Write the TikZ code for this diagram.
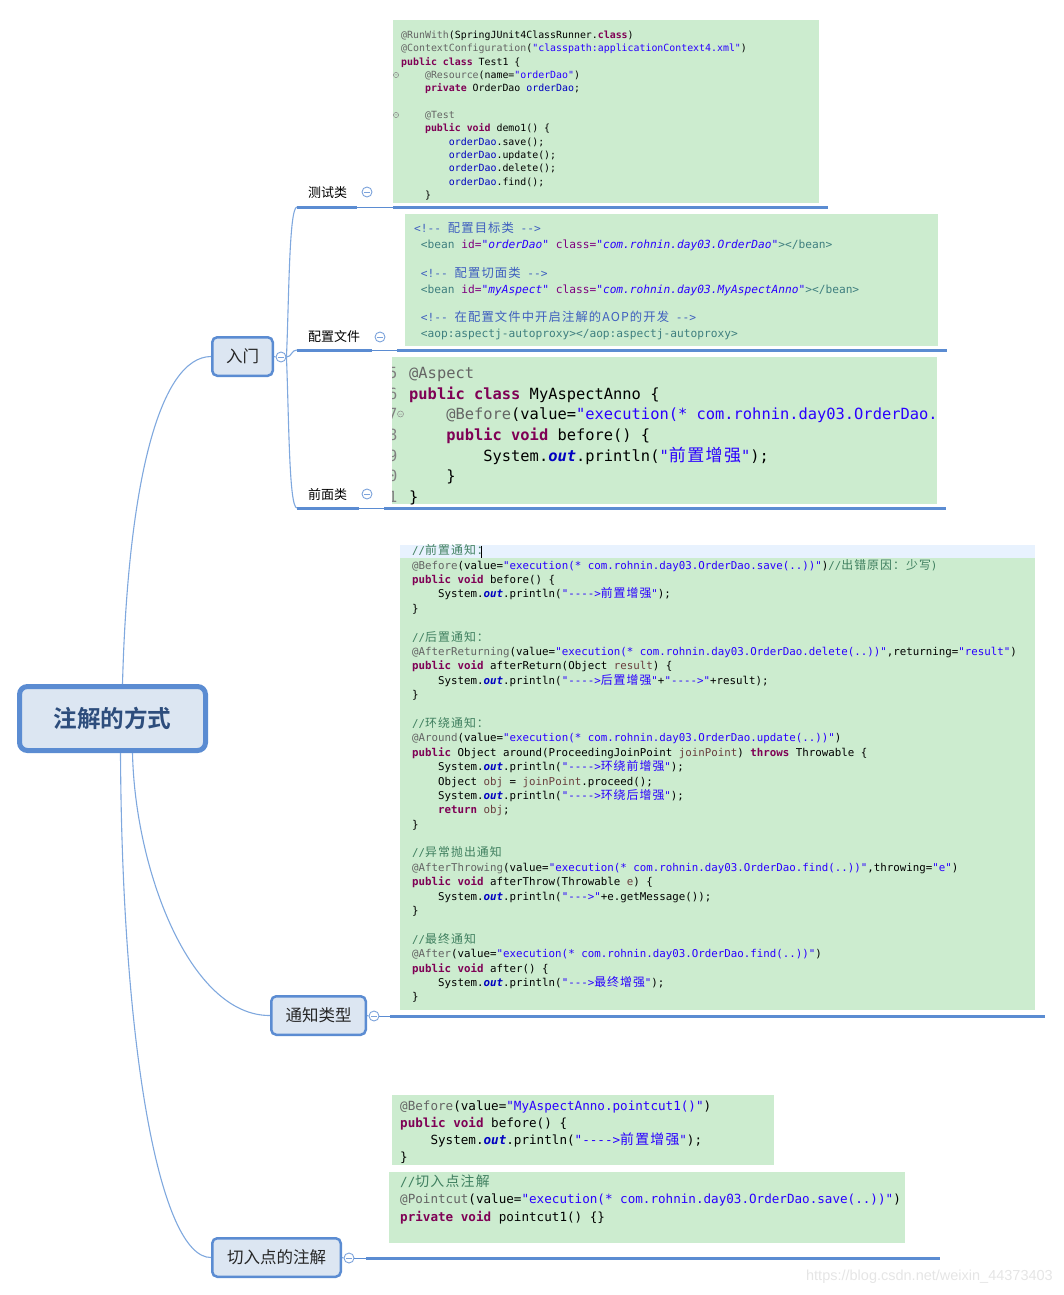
\documentclass[tikz,border=0pt]{standalone}
\usepackage{fontspec}
\setmonofont{DejaVu Sans Mono}[BoldFont={DejaVu Sans Mono Bold},ItalicFont={DejaVu Sans Mono Oblique},BoldItalicFont={DejaVu Sans Mono Bold Oblique}]
\newfontfamily\cjk{Noto Sans CJK SC}[BoldFont={Noto Sans CJK SC Bold}]
\newfontfamily\cjkm{Noto Sans CJK SC}[Scale=1.1,LetterSpace=9]
\newfontfamily\wmf{Liberation Sans}
\definecolor{codegreen}{HTML}{CCECCF}
\definecolor{curline}{HTML}{E8F2FE}
\definecolor{mapblue}{HTML}{5B8CD2}
\definecolor{connblue}{HTML}{7FA8DE}
\definecolor{nodefill}{HTML}{DCE6F2}
\definecolor{roottext}{HTML}{2D4D7C}
\definecolor{nodetext}{HTML}{262626}
\definecolor{anno}{HTML}{646464}
\definecolor{kw}{HTML}{7F0055}
\definecolor{str}{HTML}{2A00FF}
\definecolor{fld}{HTML}{0000C0}
\definecolor{cmt}{HTML}{3F7F5F}
\definecolor{par}{HTML}{6A3E3E}
\definecolor{xcmt}{HTML}{3F5FBF}
\definecolor{xtag}{HTML}{3F7F7F}
\definecolor{xattr}{HTML}{7F007F}
\newcommand\cAn[1]{\textcolor{anno}{#1}}
\newcommand\cKw[1]{\textcolor{kw}{\bfseries #1}}
\newcommand\cSt[1]{\textcolor{str}{#1}}
\newcommand\cFd[1]{\textcolor{fld}{\bfseries\itshape #1}}
\newcommand\cVa[1]{\textcolor{fld}{#1}}
\newcommand\cCm[1]{\textcolor{cmt}{#1}}
\newcommand\cPa[1]{\textcolor{par}{#1}}
\newcommand\cCj[1]{{\cjkm #1}}
\newcommand\xC[1]{\textcolor{xcmt}{#1}}
\newcommand\xT[1]{\textcolor{xtag}{#1}}
\newcommand\xA[1]{\textcolor{xattr}{#1}}
\newcommand\xV[1]{\textcolor{str}{\itshape #1}}
\tikzset{
  conn/.style={draw=connblue, line width=1.1pt},
  uthick/.style={draw=mapblue, line width=3pt},
  uthin/.style={draw=mapblue, line width=1pt},
  rootbox/.style={draw=mapblue, line width=5pt, fill=nodefill, rounded corners=8pt, minimum width=186pt, minimum height=64pt, inner sep=0pt, font=\cjk\bfseries\fontsize{23.6}{26}\selectfont, text=roottext},
  topicbox/.style={draw=mapblue, line width=2.5pt, fill=nodefill, rounded corners=5pt, minimum height=38.5pt, inner sep=0pt, font=\cjk\fontsize{16.5}{18}\selectfont, text=nodetext},
  sublabel/.style={anchor=west, inner sep=0pt, font=\cjk\fontsize{13}{15}\selectfont, text=black},
  fold/.style={circle, draw=mapblue!80, fill=white, minimum size=10pt, inner sep=0pt, line width=0.9pt,
    path picture={\draw[mapblue!80, line width=0.9pt] ([xshift=-2.6pt]path picture bounding box.center) -- ([xshift=2.6pt]path picture bounding box.center);}},
  codeblock/.style={fill=codegreen, draw=none},
  cA/.style={anchor=base west, inner sep=0pt, font=\ttfamily\fontsize{9.9}{11}\selectfont},
  cB/.style={anchor=base west, inner sep=0pt, font=\ttfamily\fontsize{11.2}{13}\selectfont},
  cC/.style={anchor=base west, inner sep=0pt, font=\ttfamily\fontsize{15.4}{17}\selectfont},
  cnum/.style={anchor=base east, inner sep=0pt, text=black!50, font=\ttfamily\fontsize{15.4}{17}\selectfont},
  cD/.style={anchor=base west, inner sep=0pt, font=\ttfamily\fontsize{10.8}{12}\selectfont},
  cE/.style={anchor=base west, inner sep=0pt, font=\ttfamily\fontsize{12.6}{14}\selectfont},
}
\begin{document}
\begin{tikzpicture}[x=1pt,y=-1pt]
\useasboundingbox (0,0) rectangle (1063,1295);

% ---------- code blocks (backgrounds) ----------
\fill[codeblock] (393,20) rectangle (819,203);
\fill[codeblock] (405,214) rectangle (938,346);
\fill[codeblock] (392,357) rectangle (937,504);
\fill[codeblock] (400,545) rectangle (1035,1010);
\fill[curline] (400,545) rectangle (1035,558);
\fill[codeblock] (392,1095) rectangle (774,1165);
\fill[codeblock] (389,1172) rectangle (905,1243);

% ---------- block 1 ----------
\draw[black!45, line width=0.5pt] (396,75) circle (2.6pt) (394.6,75) -- (397.4,75);
\draw[black!45, line width=0.5pt] (396,115) circle (2.6pt) (394.6,115) -- (397.4,115);
\node[cA] (a0) at (401,38.4) {\cAn{@RunWith}(SpringJUnit4ClassRunner.\cKw{class})};
\node[cA] (a1) at (401,51.75) {\cAn{@ContextConfiguration}(\cSt{"classpath:applicationContext4.xml"})};
\node[cA] (a2) at (401,65.1) {\cKw{public} \cKw{class} Test1 \{};
\node[cA] (a3) at (401,78.45) {\ \ \ \ \cAn{@Resource}(name=\cSt{"orderDao"})};
\node[cA] (a4) at (401,91.8) {\ \ \ \ \cKw{private} OrderDao \cVa{orderDao};};
\node[cA] (a6) at (401,118.5) {\ \ \ \ \cAn{@Test}};
\node[cA] (a7) at (401,131.85) {\ \ \ \ \cKw{public} \cKw{void} demo1() \{};
\node[cA] (a8) at (401,145.2) {\ \ \ \ \ \ \ \ \cVa{orderDao}.save();};
\node[cA] (a9) at (401,158.55) {\ \ \ \ \ \ \ \ \cVa{orderDao}.update();};
\node[cA] (a10) at (401,171.9) {\ \ \ \ \ \ \ \ \cVa{orderDao}.delete();};
\node[cA] (a11) at (401,185.25) {\ \ \ \ \ \ \ \ \cVa{orderDao}.find();};
\node[cA] (a12) at (401,198.6) {\ \ \ \ \}};

% ---------- block 2 ----------
\node[cB] (b0) at (414,232.9) {\xC{<!-- \cCj{配置目标类} -->}};
\node[cB] (b1) at (414,248.9) {\ \xT{<bean} \xA{id=}\xV{"orderDao"} \xA{class=}\xV{"com.rohnin.day03.OrderDao"}\xT{></bean>}};
\node[cB] (b2) at (414,277.9) {\ \xC{<!-- \cCj{配置切面类} -->}};
\node[cB] (b3) at (414,293.9) {\ \xT{<bean} \xA{id=}\xV{"myAspect"} \xA{class=}\xV{"com.rohnin.day03.MyAspectAnno"}\xT{></bean>}};
\node[cB] (b4) at (414,321.9) {\ \xC{<!-- \cCj{在配置文件中开启注解的AOP的开发} -->}};
\node[cB] (b5) at (414,337.9) {\ \xT{<aop:aspectj-autoproxy></aop:aspectj-autoproxy>}};

% ---------- block 3 ----------
\begin{scope}
\clip (392,357) rectangle (937,504);
\node[cnum] (n15) at (397.5,378.4) {15};
\node[cnum] (n16) at (397.5,399.1) {16};
\node[cnum] (n17) at (397.5,419.8) {17};
\node[cnum] (n18) at (397.5,440.5) {18};
\node[cnum] (n19) at (397.5,461.2) {19};
\node[cnum] (n20) at (397.5,481.9) {20};
\node[cnum] (n21) at (397.5,502.6) {21};
\draw[black!45, line width=0.5pt] (400.5,414) circle (3pt) (398.8,414) -- (402.2,414);
\node[cC] (c0) at (409,378.4) {\cAn{@Aspect}};
\node[cC] (c1) at (409,399.1) {\cKw{public} \cKw{class} MyAspectAnno \{};
\node[cC] (c2) at (409,419.8) {\ \ \ \ \cAn{@Before}(value=\cSt{"execution(* com.rohnin.day03.OrderDao.}};
\node[cC] (c3) at (409,440.5) {\ \ \ \ \cKw{public} \cKw{void} before() \{};
\node[cC] (c4) at (409,461.2) {\ \ \ \ \ \ \ \ System.\cFd{out}.println(\cSt{"\cCj{前置增强}"});};
\node[cC] (c5) at (409,481.9) {\ \ \ \ \}};
\node[cC] (c6) at (409,502.6) {\}};
\end{scope}

% ---------- block 4 ----------
\node[cD] (d0) at (412,554.8) {\cCm{//\cCj{前置通知：}}};
\draw[black, line width=0.8pt] (481.5,545.5) -- (481.5,557.5);
\node[cD] (d1) at (412,569.19) {\cAn{@Before}(value=\cSt{"execution(* com.rohnin.day03.OrderDao.save(..))"})\cCm{//\cCj{出错原因：少写})}};
\node[cD] (d2) at (412,583.58) {\cKw{public} \cKw{void} before() \{};
\node[cD] (d3) at (412,597.97) {\ \ \ \ System.\cFd{out}.println(\cSt{"---->\cCj{前置增强}"});};
\node[cD] (d4) at (412,612.36) {\}};
\node[cD] (d6) at (412,641.14) {\cCm{//\cCj{后置通知：}}};
\node[cD] (d7) at (412,655.53) {\cAn{@AfterReturning}(value=\cSt{"execution(* com.rohnin.day03.OrderDao.delete(..))"},returning=\cSt{"result"})};
\node[cD] (d8) at (412,669.92) {\cKw{public} \cKw{void} afterReturn(Object \cPa{result}) \{};
\node[cD] (d9) at (412,684.31) {\ \ \ \ System.\cFd{out}.println(\cSt{"---->\cCj{后置增强}"}+\cSt{"---->"}+result);};
\node[cD] (d10) at (412,698.7) {\}};
\node[cD] (d12) at (412,727.48) {\cCm{//\cCj{环绕通知：}}};
\node[cD] (d13) at (412,741.87) {\cAn{@Around}(value=\cSt{"execution(* com.rohnin.day03.OrderDao.update(..))"})};
\node[cD] (d14) at (412,756.26) {\cKw{public} Object around(ProceedingJoinPoint \cPa{joinPoint}) \cKw{throws} Throwable \{};
\node[cD] (d15) at (412,770.65) {\ \ \ \ System.\cFd{out}.println(\cSt{"---->\cCj{环绕前增强}"});};
\node[cD] (d16) at (412,785.04) {\ \ \ \ Object \cPa{obj} = \cPa{joinPoint}.proceed();};
\node[cD] (d17) at (412,799.43) {\ \ \ \ System.\cFd{out}.println(\cSt{"---->\cCj{环绕后增强}"});};
\node[cD] (d18) at (412,813.82) {\ \ \ \ \cKw{return} \cPa{obj};};
\node[cD] (d19) at (412,828.21) {\}};
\node[cD] (d21) at (412,856.99) {\cCm{//\cCj{异常抛出通知}}};
\node[cD] (d22) at (412,871.38) {\cAn{@AfterThrowing}(value=\cSt{"execution(* com.rohnin.day03.OrderDao.find(..))"},throwing=\cSt{"e"})};
\node[cD] (d23) at (412,885.77) {\cKw{public} \cKw{void} afterThrow(Throwable \cPa{e}) \{};
\node[cD] (d24) at (412,900.16) {\ \ \ \ System.\cFd{out}.println(\cSt{"--->"}+e.getMessage());};
\node[cD] (d25) at (412,914.55) {\}};
\node[cD] (d27) at (412,943.33) {\cCm{//\cCj{最终通知}}};
\node[cD] (d28) at (412,957.72) {\cAn{@After}(value=\cSt{"execution(* com.rohnin.day03.OrderDao.find(..))"})};
\node[cD] (d29) at (412,972.11) {\cKw{public} \cKw{void} after() \{};
\node[cD] (d30) at (412,986.5) {\ \ \ \ System.\cFd{out}.println(\cSt{"--->\cCj{最终增强}"});};
\node[cD] (d31) at (412,1000.89) {\}};

% ---------- block 5 ----------
\node[cE] (e0) at (400,1110.4) {\cAn{@Before}(value=\cSt{"MyAspectAnno.pointcut1()"})};
\node[cE] (e1) at (400,1127.4) {\cKw{public} \cKw{void} before() \{};
\node[cE] (e2) at (400,1144.4) {\ \ \ \ System.\cFd{out}.println(\cSt{"---->\cCj{前置增强}"});};
\node[cE] (e3) at (400,1161.4) {\}};
\node[cE] (f0) at (400,1186.4) {\cCm{//\cCj{切入点注解}}};
\node[cE] (f1) at (400,1203.9) {\cAn{@Pointcut}(value=\cSt{"execution(* com.rohnin.day03.OrderDao.save(..))"})};
\node[cE] (f2) at (400,1221.4) {\cKw{private} \cKw{void} pointcut1() \{\}};

% ---------- mind map nodes ----------
\node[rootbox] (root) at (112.5,718.5) {注解的方式};
\node[topicbox, minimum width=60.5pt] (intro) at (242.5,356.5) {入门};
\node[topicbox, minimum width=94.5pt] (notify) at (318.5,1015.5) {通知类型};
\node[topicbox, minimum width=128.5pt] (pc) at (276.5,1257.5) {切入点的注解};

\node[fold] (fi) at (281,357) {};
\node[fold] (fn) at (374,1016) {};
\node[fold] (fp) at (349,1258) {};

\node[sublabel] (l1) at (308,193) {测试类};
\node[sublabel] (l2) at (308,337) {配置文件};
\node[sublabel] (l3) at (308,495) {前面类};
\node[fold] (f1c) at (367,192) {};
\node[fold] (f2c) at (380,337) {};
\node[fold] (f3c) at (367,494) {};

% ---------- connectors ----------
\draw[conn] ([xshift=10pt]root.north) .. controls (128,480) and (160,357) .. (intro.west);
\draw[conn] ([xshift=20pt]root.south) .. controls (135,870) and (190,1016) .. (notify.west);
\draw[conn] ([xshift=8pt]root.south) .. controls (122,1050) and (160,1258) .. (pc.west);

\draw[conn] (intro.east) -- (fi.west);
\draw[conn] (notify.east) -- (fn.west);
\draw[conn] (pc.east) -- (fp.west);

\coordinate (u1) at (297,207);
\coordinate (u2) at (297,350);
\coordinate (u3) at (297,508);
\draw[conn] (fi.east) .. controls (289,300) and (289,207) .. (u1);
\draw[conn] (fi.east) .. controls (292,357) and (291,350) .. (u2);
\draw[conn] (fi.east) .. controls (289,420) and (289,508) .. (u3);

\draw[uthick] (u1) -- (357,207);
\draw[uthin] (357,207) -- (393,207);
\draw[uthick] (393,207) -- (828,207);
\draw[uthick] (u2) -- (372,350);
\draw[uthin] (372,350) -- (397,350);
\draw[uthick] (397,350) -- (947,350);
\draw[uthick] (u3) -- (359,508);
\draw[uthin] (359,508) -- (384,508);
\draw[uthick] (384,508) -- (946,508);

\draw[uthin] (fn.east) -- (390,1016);
\draw[uthick] (390,1016) -- (1045,1016);
\draw[uthin] (fp.east) -- (366,1258);
\draw[uthick] (366,1258) -- (940,1258);

% ---------- watermark ----------
\node[anchor=east, inner sep=0pt, font=\wmf\fontsize{14.5}{16}\selectfont, text=black!10] (wm) at (1053,1277) {https://blog.csdn.net/weixin\_44373403};
\end{tikzpicture}
\end{document}
